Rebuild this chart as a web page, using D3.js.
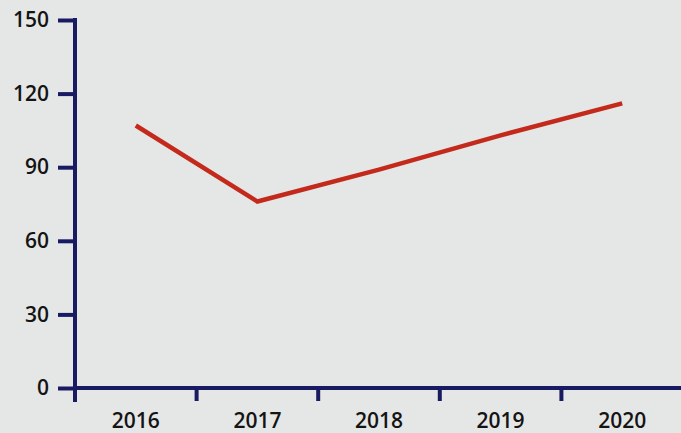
<!DOCTYPE html>
<html>
<head>
<meta charset="utf-8">
<script src="https://cdn.jsdelivr.net/npm/d3@7"></script>
<style>
  html, body { margin: 0; padding: 0; background: #e5e7e7; }
  svg { display: block; }
  .tick text { font-family: "Open Sans", "Noto Sans", sans-serif; font-size: 21px; font-weight: 600; fill: #141414; }
</style>
</head>
<body>
<div id="chart"></div>
<script>
var years = ["2016", "2017", "2018", "2019", "2020"];
var values = [107, 76, 89, 103, 116];
var yTicks = [0, 30, 60, 90, 120, 150];

var width = 681, height = 433;
var margin = {top: 20, right: -2, bottom: 45, left: 75};

var svg = d3.select("#chart").append("svg")
    .attr("width", width)
    .attr("height", height);

svg.append("rect")
    .attr("width", width)
    .attr("height", height)
    .attr("fill", "#e5e7e7");

var x = d3.scaleBand()
    .domain(years)
    .range([margin.left, width - margin.right]);

var y = d3.scaleLinear()
    .domain([0, 150])
    .range([height - margin.bottom, margin.top]);

var axisColor = "#181a62";

// y axis
var yAxis = svg.append("g")
    .attr("transform", "translate(" + margin.left + ",0)")
    .call(d3.axisLeft(y).tickValues(yTicks).tickSize(17).tickPadding(9).tickSizeOuter(0));
yAxis.select(".domain").remove();
yAxis.selectAll(".tick line").attr("stroke", axisColor).attr("stroke-width", 4);
svg.append("line")
    .attr("x1", margin.left).attr("x2", margin.left)
    .attr("y1", y(150) - 2).attr("y2", y(0) + 14)
    .attr("stroke", axisColor).attr("stroke-width", 4);

// x axis
var xAxis = svg.append("g")
    .attr("transform", "translate(0," + y(0) + ")")
    .call(d3.axisBottom(x).tickSize(0).tickPadding(25).tickSizeOuter(0));
xAxis.select(".domain").remove();
svg.append("line")
    .attr("x1", margin.left).attr("x2", width)
    .attr("y1", y(0)).attr("y2", y(0))
    .attr("stroke", axisColor).attr("stroke-width", 4);
svg.selectAll(".xsep")
    .data(years.slice(1))
    .enter().append("line")
    .attr("class", "xsep")
    .attr("x1", function(d) { return x(d); })
    .attr("x2", function(d) { return x(d); })
    .attr("y1", y(0)).attr("y2", y(0) + 13)
    .attr("stroke", axisColor).attr("stroke-width", 4);

// line
var line = d3.line()
    .x(function(d, i) { return x(years[i]) + x.bandwidth() / 2; })
    .y(function(d) { return y(d); });

svg.append("path")
    .datum(values)
    .attr("fill", "none")
    .attr("stroke", "#c42a1c")
    .attr("stroke-width", 4.5)
    .attr("stroke-linejoin", "miter")
    .attr("d", line);
</script>
</body>
</html>
